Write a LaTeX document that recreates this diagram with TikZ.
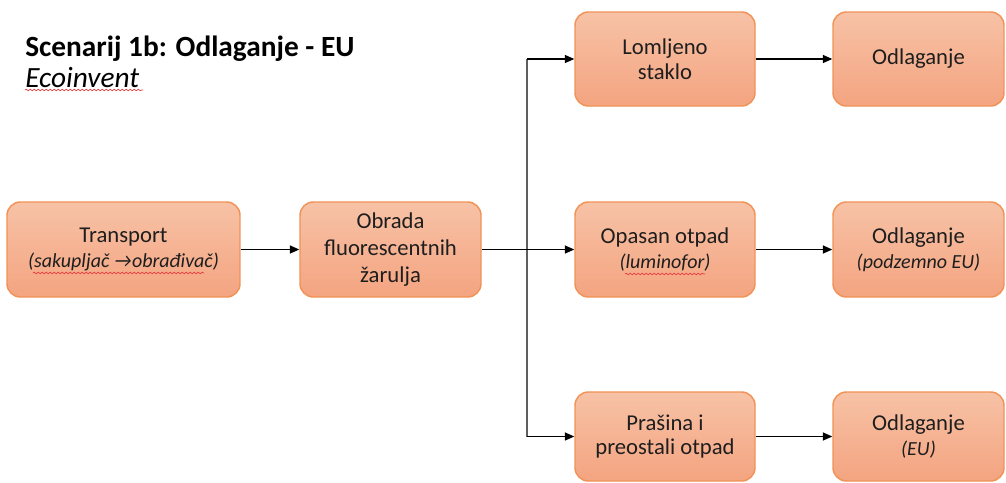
\documentclass[tikz,border=0pt]{standalone}
\usepackage{fontspec}
\setmainfont{Carlito}
\usetikzlibrary{arrows.meta,decorations.pathmorphing}
\definecolor{boxtop}{RGB}{247,194,166}
\definecolor{boxbot}{RGB}{244,164,128}
\definecolor{boxline}{RGB}{241,146,86}
\definecolor{linegray}{RGB}{95,95,95}
\definecolor{txt}{RGB}{30,30,30}
\definecolor{spell}{RGB}{230,60,60}
\newcommand{\subtxt}[1]{{\fontsize{15}{18.5}\selectfont\itshape #1}}
\begin{document}
\begin{tikzpicture}[x=0.75pt,y=-0.75pt,
  box/.style={draw=boxline, line width=1.1pt, rounded corners=10pt,
    top color=boxtop, bottom color=boxbot, align=center,
    font=\fontsize{17}{18.5}\selectfont, text=txt, inner sep=0pt},
  midbox/.style={box, minimum width=135pt, minimum height=70.5pt},
  endbox/.style={box, minimum width=128.25pt, minimum height=70.5pt},
  arr/.style={-{Triangle[length=7pt,width=6pt]}, line width=0.8pt, black},
  wavy/.style={spell, line width=0.5pt, decorate,
    decoration={snake, segment length=3pt, amplitude=0.6pt}}]
\useasboundingbox (0,0) rectangle (1006,482);

% title
\node[anchor=base west, inner sep=0pt, font=\fontsize{22}{24}\selectfont\bfseries] (title) at (25,56) {Scenarij 1b: Odlaganje - EU};
\node[anchor=base west, inner sep=0pt, font=\fontsize{22}{24}\selectfont\itshape] (eco) at (25,87) {Ecoinvent};

% boxes
\node[box, minimum width=174.75pt, minimum height=71.25pt] (tr) at (123.5,249.5)
  {Transport\\ \subtxt{(sakupljač →obrađivač)}};
\node[box, minimum width=135.75pt, minimum height=71.25pt, font=\fontsize{17}{20}\selectfont] (ob) at (390.5,249.5)
  {Obrada\\fluorescentnih\\žarulja};

\node[midbox] (lom) at (665,59) {Lomljeno\\staklo};
\node[midbox, minimum height=71.25pt] (op) at (665,249.5) {Opasan otpad\\ \subtxt{(luminofor)}};
\node[midbox, minimum height=66.75pt] (pr) at (665,436.5) {Prašina i\\preostali otpad};

\node[endbox] (od1) at (918.5,59) {Odlaganje};
\node[endbox, minimum height=71.25pt] (od2) at (918.5,249.5) {Odlaganje\\ \subtxt{(podzemno EU)}};
\node[endbox, minimum height=66.75pt] (od3) at (918.5,436.5) {Odlaganje\\ \subtxt{(EU)}};

% connectors
\coordinate (j) at (527,249.5);
\coordinate (jt) at (j |- lom.west);
\coordinate (jb) at (j |- pr.west);
\draw[linegray, line width=1.1pt] (jt) -- (jb);
\draw[arr] (tr.east) -- (ob.west);
\draw[arr] (ob.east) -- (op.west);
\draw[arr] (jt) -- (lom.west);
\draw[arr] (jb) -- (pr.west);
\draw[arr] (lom.east) -- (od1.west);
\draw[arr] (op.east) -- (od2.west);
\draw[arr] (pr.east) -- (od3.west);

% spell-check underlines
\draw[wavy] (25,90) -- (143,90);
\draw[wavy] (33,273) -- (204,273);
\draw[wavy] (625,274) -- (705,274);
\end{tikzpicture}
\end{document}
